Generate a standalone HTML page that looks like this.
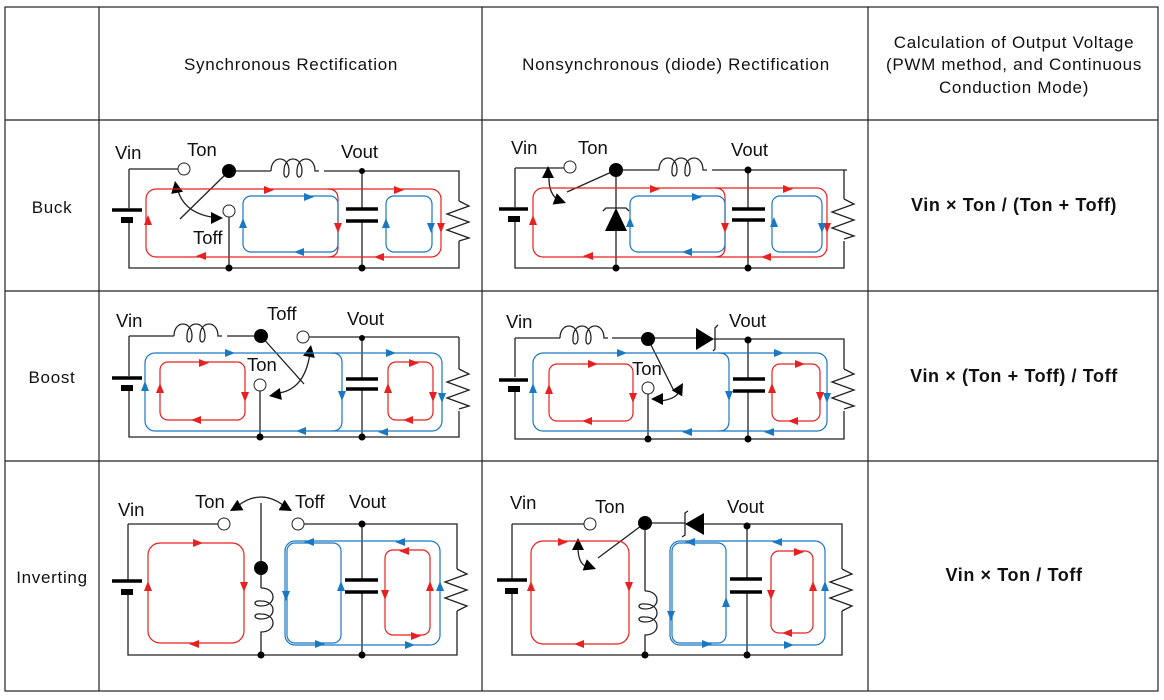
<!DOCTYPE html>
<html><head><meta charset="utf-8"><style>
html,body{margin:0;padding:0;background:#fff}
svg{display:block}
text{font-family:"Liberation Sans",Arial,sans-serif;fill:#111}
.w{stroke:#222;stroke-width:1.3;fill:none}
.r{stroke:#e82020;stroke-width:1.2;fill:none}
.b{stroke:#1a78c2;stroke-width:1.2;fill:none}
.pl{stroke:#000;stroke-width:3.5}
.ps{stroke:#000;stroke-width:6}
.t{font-size:18.5px}
</style></head><body>
<svg width="1164" height="700" viewBox="0 0 1164 700" xmlns="http://www.w3.org/2000/svg">
<defs>
<polygon id="ar" points="0,0 -10,-4 -10,4"/>
<polygon id="ak" points="0,0 -12,-6 -12,6" fill="#000"/>
</defs>
<g stroke="#222" stroke-width="1.2" fill="none">
<rect x="5" y="7" width="1153" height="684"/>
<line x1="99" y1="7" x2="99" y2="691"/>
<line x1="482" y1="7" x2="482" y2="691"/>
<line x1="868" y1="7" x2="868" y2="691"/>
<line x1="5" y1="120" x2="1158" y2="120"/>
<line x1="5" y1="291" x2="1158" y2="291"/>
<line x1="5" y1="461" x2="1158" y2="461"/>
</g>
<g font-size="17" text-anchor="middle" letter-spacing="0.7">
<text x="291" y="70">Synchronous Rectification</text>
<text x="676" y="70">Nonsynchronous (diode) Rectification</text>
<text x="1014" y="48">Calculation of Output Voltage</text>
<text x="1014" y="70">(PWM method, and Continuous</text>
<text x="1014" y="93">Conduction Mode)</text>
<text x="52" y="213">Buck</text>
<text x="52" y="383">Boost</text>
<text x="52" y="583">Inverting</text>
</g>
<g font-size="18" font-weight="bold" text-anchor="middle" letter-spacing="0.6">
<text x="1014" y="211">Vin ×  Ton / (Ton + Toff)</text>
<text x="1014" y="382">Vin ×  (Ton + Toff) / Toff</text>
<text x="1014" y="581">Vin ×  Ton / Toff</text>
</g>

<!-- BUCK SYNC -->
<g transform="translate(99,121)">
<text class="t" x="16" y="38">Vin</text><text class="t" x="88" y="35">Ton</text><text class="t" x="242" y="37">Vout</text><text class="t" x="94" y="123">Toff</text>
<path class="w" d="M30,48 H79 M137,50 H172 M225,50 H360 V80 M360,120 V147 H30 V99 M30,87 V48 M263,50 V88 M263,100 V147 M130,96 V147 M130,50 L81,98"/>
<path class="w" d="M172,50 c0,-16 18,-16 18,0 c0,8 -6,8 -5,0 c0,-16 18,-16 18,0 c0,8 -6,8 -5,0 c0,-16 18,-16 18,0 c0,0 0,0 4,0"/>
<path class="w" d="M360,80 l10,5 l-22,8 l22,8 l-22,8 l22,8 l-10,3"/>
<line class="pl" x1="13" y1="89" x2="43" y2="89"/><line class="ps" x1="22" y1="99" x2="34" y2="99"/>
<line class="pl" x1="247" y1="88" x2="279" y2="88"/><line class="pl" x1="247" y1="100" x2="279" y2="100"/>
<circle cx="85" cy="48" r="6" fill="#fff" stroke="#222"/><circle cx="130" cy="50" r="7"/><circle cx="130" cy="90" r="6" fill="#fff" stroke="#222"/>
<circle cx="263" cy="50" r="3"/><circle cx="263" cy="147" r="3.5"/><circle cx="130" cy="147" r="3.5"/>
<path class="w" stroke="#000" d="M78,66 Q84,94 120,97"/><use href="#ak" transform="translate(76,60) rotate(-100)"/><use href="#ak" transform="translate(124,97) rotate(0)"/>
<rect class="r" x="47" y="68" width="295" height="68" rx="10"/><path class="r" d="M229,68 q10,0 10,10 V126 q0,10 -10,10"/>
<rect class="b" x="144" y="75" width="95" height="56" rx="8"/><rect class="b" x="287" y="75" width="46" height="56" rx="8"/>
<g fill="#e82020"><use href="#ar" transform="translate(175,69)"/><use href="#ar" transform="translate(305,69)"/><use href="#ar" transform="translate(49,94) rotate(-90)"/><use href="#ar" transform="translate(239,112) rotate(90)"/><use href="#ar" transform="translate(342,112) rotate(90)"/><use href="#ar" transform="translate(97,135) rotate(180)"/><use href="#ar" transform="translate(275,136) rotate(180)"/></g>
<g fill="#1a78c2"><use href="#ar" transform="translate(215,76)"/><use href="#ar" transform="translate(144,97) rotate(-90)"/><use href="#ar" transform="translate(195,131) rotate(180)"/><use href="#ar" transform="translate(287,97) rotate(-90)"/><use href="#ar" transform="translate(332,112) rotate(90)"/></g>
</g>

<!-- BUCK NONSYNC -->
<g transform="translate(482,121)">
<text class="t" x="29" y="33">Vin</text><text class="t" x="96" y="33">Ton</text><text class="t" x="249" y="35">Vout</text>
<path class="w" d="M33,47 H82 M141,49 H177 M230,49 H365 M362,49 V78 M362,120 V147 H33 V98 M33,86 V47 M266,49 V87 M266,99 V147 M134,49 V150 M134,49 L85,71"/>
<path class="w" d="M177,49 c0,-16 18,-16 18,0 c0,8 -6,8 -5,0 c0,-16 18,-16 18,0 c0,8 -6,8 -5,0 c0,-16 18,-16 18,0 c0,0 0,0 4,0"/>
<path class="w" d="M362,78 l10,5 l-22,8 l22,8 l-22,8 l22,8 l-10,3"/>
<polygon points="134,87 123,110 145,110"/><path class="w" stroke="#000" stroke-width="2" d="M121,90 l3,-3 H144 l3,3"/>
<line class="pl" x1="17" y1="88" x2="46" y2="88"/><line class="ps" x1="26" y1="98" x2="38" y2="98"/>
<line class="pl" x1="250" y1="88" x2="283" y2="88"/><line class="pl" x1="250" y1="99" x2="283" y2="99"/>
<circle cx="88" cy="46" r="6" fill="#fff" stroke="#222"/><circle cx="134" cy="49" r="7"/>
<circle cx="266" cy="49" r="3.5"/><circle cx="266" cy="147" r="3.5"/><circle cx="134" cy="147" r="3.5"/>
<path class="w" stroke="#000" d="M67,54 Q66,74 78,80"/><use href="#ak" transform="translate(66,45) rotate(-90)"/><use href="#ak" transform="translate(84,82) rotate(20)"/>
<rect class="r" x="51" y="67" width="294" height="69" rx="10"/><path class="r" d="M233,67 q10,0 10,10 V126 q0,10 -10,10"/>
<rect class="b" x="148" y="75" width="95" height="56" rx="8"/><rect class="b" x="290" y="75" width="50" height="56" rx="8"/>
<g fill="#e82020"><use href="#ar" transform="translate(178,68)"/><use href="#ar" transform="translate(311,68)"/><use href="#ar" transform="translate(51,94) rotate(-90)"/><use href="#ar" transform="translate(243,112) rotate(90)"/><use href="#ar" transform="translate(345,112) rotate(90)"/><use href="#ar" transform="translate(101,135) rotate(180)"/><use href="#ar" transform="translate(279,136) rotate(180)"/></g>
<g fill="#1a78c2"><use href="#ar" transform="translate(220,76)"/><use href="#ar" transform="translate(148,96) rotate(-90)"/><use href="#ar" transform="translate(200,131) rotate(180)"/><use href="#ar" transform="translate(292,96) rotate(-90)"/><use href="#ar" transform="translate(340,112) rotate(90)"/></g>
</g>

<!-- BOOST SYNC -->
<g transform="translate(99,291)">
<text class="t" x="17" y="36">Vin</text><text class="t" x="168" y="29">Toff</text><text class="t" x="248" y="34">Vout</text><text class="t" x="148" y="80">Ton</text>
<path class="w" d="M30,45 H75 M128,45 H155 M210,46 H360 M360,46 V78 M360,120 V146 H30 V97 M30,85 V45 M263,47 V88 M263,98 V146 M161,100 V146 M162,45 L205,93"/>
<path class="w" d="M75,45 c0,-16 18,-16 18,0 c0,8 -6,8 -5,0 c0,-16 18,-16 18,0 c0,8 -6,8 -5,0 c0,-16 18,-16 18,0 c0,0 0,0 4,0"/>
<path class="w" d="M360,78 l10,5 l-22,8 l22,8 l-22,8 l22,8 l-10,3"/>
<line class="pl" x1="13" y1="87" x2="43" y2="87"/><line class="ps" x1="22" y1="97" x2="34" y2="97"/>
<line class="pl" x1="247" y1="88" x2="279" y2="88"/><line class="pl" x1="247" y1="98" x2="279" y2="98"/>
<circle cx="162" cy="45" r="7"/><circle cx="204" cy="46" r="6" fill="#fff" stroke="#222"/><circle cx="161" cy="94" r="6" fill="#fff" stroke="#222"/>
<circle cx="263" cy="47" r="3"/><circle cx="263" cy="146" r="3.5"/><circle cx="161" cy="146" r="3.5"/>
<path class="w" stroke="#000" d="M211,62 Q206,98 180,102"/><use href="#ak" transform="translate(212,54) rotate(-80)"/><use href="#ak" transform="translate(170,105) rotate(170)"/>
<rect class="b" x="46" y="62" width="297" height="78" rx="10"/><path class="b" d="M233,62 q10,0 10,10 V130 q0,10 -10,10"/>
<rect class="r" x="61" y="71" width="85" height="58" rx="8"/><rect class="r" x="289" y="71" width="45" height="58" rx="8"/>
<g fill="#1a78c2"><use href="#ar" transform="translate(136,62)"/><use href="#ar" transform="translate(297,62)"/><use href="#ar" transform="translate(46,90) rotate(-90)"/><use href="#ar" transform="translate(243,110) rotate(90)"/><use href="#ar" transform="translate(343,112) rotate(90)"/><use href="#ar" transform="translate(197,140) rotate(180)"/><use href="#ar" transform="translate(279,141) rotate(180)"/></g>
<g fill="#e82020"><use href="#ar" transform="translate(110,72)"/><use href="#ar" transform="translate(61,92) rotate(-90)"/><use href="#ar" transform="translate(146,111) rotate(90)"/><use href="#ar" transform="translate(92,129) rotate(180)"/><use href="#ar" transform="translate(320,72)"/><use href="#ar" transform="translate(289,92) rotate(-90)"/><use href="#ar" transform="translate(334,111) rotate(90)"/><use href="#ar" transform="translate(304,129) rotate(180)"/></g>
</g>

<!-- BOOST NONSYNC -->
<g transform="translate(482,291)">
<text class="t" x="24" y="37">Vin</text><text class="t" x="247" y="36">Vout</text><text class="t" x="150" y="84">Ton</text>
<path class="w" d="M33,47 H78 M130,47 H215 M232,48 H362 V78 M362,120 V148 H33 V98 M33,86 V47 M266,49 V88 M266,100 V148 M166,103 V148 M166,48 L192,100"/>
<path class="w" d="M78,47 c0,-16 18,-16 18,0 c0,8 -6,8 -5,0 c0,-16 18,-16 18,0 c0,8 -6,8 -5,0 c0,-16 18,-16 18,0 c0,0 0,0 4,0"/>
<path class="w" d="M362,78 l10,5 l-22,8 l22,8 l-22,8 l22,8 l-10,3"/>
<polygon points="232,48 214,37 214,59"/><path class="w" stroke="#000" stroke-width="2" d="M236,34 l-3,3 V58 l-2,2"/>
<line class="pl" x1="17" y1="89" x2="46" y2="89"/><line class="ps" x1="26" y1="98" x2="38" y2="98"/>
<line class="pl" x1="251" y1="88" x2="283" y2="88"/><line class="pl" x1="251" y1="100" x2="283" y2="100"/>
<circle cx="166" cy="48" r="7"/><circle cx="166" cy="97" r="6" fill="#fff" stroke="#222"/>
<circle cx="266" cy="49" r="3.5"/><circle cx="266" cy="148" r="3.5"/><circle cx="166" cy="148" r="3.5"/>
<path class="w" stroke="#000" d="M178,110 Q196,108 198,98"/><use href="#ak" transform="translate(169,108) rotate(180)"/><use href="#ak" transform="translate(201,92) rotate(-60)"/>
<rect class="b" x="51" y="62" width="294" height="78" rx="10"/><path class="b" d="M237,62 q10,0 10,10 V130 q0,10 -10,10"/>
<rect class="r" x="67" y="73" width="84" height="57" rx="8"/><rect class="r" x="290" y="73" width="48" height="57" rx="8"/>
<g fill="#1a78c2"><use href="#ar" transform="translate(145,62)"/><use href="#ar" transform="translate(302,62)"/><use href="#ar" transform="translate(51,92) rotate(-90)"/><use href="#ar" transform="translate(247,110) rotate(90)"/><use href="#ar" transform="translate(345,112) rotate(90)"/><use href="#ar" transform="translate(200,141) rotate(180)"/><use href="#ar" transform="translate(282,141) rotate(180)"/></g>
<g fill="#e82020"><use href="#ar" transform="translate(116,73)"/><use href="#ar" transform="translate(67,93) rotate(-90)"/><use href="#ar" transform="translate(151,112) rotate(90)"/><use href="#ar" transform="translate(100,130) rotate(180)"/><use href="#ar" transform="translate(323,73)"/><use href="#ar" transform="translate(290,92) rotate(-90)"/><use href="#ar" transform="translate(338,111) rotate(90)"/><use href="#ar" transform="translate(306,130) rotate(180)"/></g>
</g>

<!-- INVERTING SYNC -->
<g transform="translate(99,461)">
<text class="t" x="19" y="55">Vin</text><text class="t" x="96" y="47">Ton</text><text class="t" x="196" y="47">Toff</text><text class="t" x="250" y="47">Vout</text>
<path class="w" d="M29,63 H119 M205,63 H358 V108 M358,150 V194 H29 V131 M29,119 V63 M263,63 V119 M263,131 V194 M162,42 V107 M162,107 V127 M162,180 V194"/>
<path class="w" d="M162,127 c16,0 16,18 0,18 c-8,0 -8,-6 0,-5 c16,0 16,18 0,18 c-8,0 -8,-6 0,-5 c16,0 16,18 0,18 V180"/>
<path class="w" d="M358,108 l10,5 l-22,8 l22,8 l-22,8 l22,8 l-10,5"/>
<line class="pl" x1="13" y1="120" x2="43" y2="120"/><line class="ps" x1="22" y1="131" x2="34" y2="131"/>
<line class="pl" x1="246" y1="119" x2="279" y2="119"/><line class="pl" x1="246" y1="131" x2="279" y2="131"/>
<circle cx="125" cy="63" r="6" fill="#fff" stroke="#222"/><circle cx="199" cy="63" r="6" fill="#fff" stroke="#222"/><circle cx="162" cy="107" r="7"/>
<circle cx="263" cy="63" r="3.5"/><circle cx="263" cy="194" r="3.5"/><circle cx="162" cy="194" r="3.5"/>
<path class="w" stroke="#000" d="M140,44 Q162,28 184,44"/><use href="#ak" transform="translate(131,50) rotate(150)"/><use href="#ak" transform="translate(193,50) rotate(30)"/>
<rect class="r" x="49" y="82" width="96" height="100" rx="12"/>
<rect class="b" x="186" y="80" width="155" height="104" rx="10"/><rect class="b" x="188" y="82" width="54" height="100" rx="8"/>
<rect class="r" x="286" y="89" width="45" height="85" rx="8"/>
<g fill="#e82020"><use href="#ar" transform="translate(104,82)"/><use href="#ar" transform="translate(49,120) rotate(-90)"/><use href="#ar" transform="translate(145,131) rotate(90)"/><use href="#ar" transform="translate(90,183) rotate(180)"/><use href="#ar" transform="translate(300,90) rotate(180)"/><use href="#ar" transform="translate(286,139) rotate(90)"/><use href="#ar" transform="translate(331,120) rotate(-90)"/><use href="#ar" transform="translate(322,175)"/></g>
<g fill="#1a78c2"><use href="#ar" transform="translate(205,81) rotate(180)"/><use href="#ar" transform="translate(296,81) rotate(180)"/><use href="#ar" transform="translate(187,140) rotate(90)"/><use href="#ar" transform="translate(242,120) rotate(-90)"/><use href="#ar" transform="translate(341,120) rotate(-90)"/><use href="#ar" transform="translate(226,183)"/><use href="#ar" transform="translate(316,184)"/></g>
</g>

<!-- INVERTING NONSYNC -->
<g transform="translate(482,461)">
<text class="t" x="28" y="48">Vin</text><text class="t" x="113" y="52">Ton</text><text class="t" x="245" y="52">Vout</text>
<path class="w" d="M30,63 H102 M170,62 H203 M222,63 H360 V108 M360,150 V194 H30 V130 M30,118 V63 M265,65 V118 M265,131 V194 M163,62 V130 M163,180 V194 M163,62 L116,97"/>
<path class="w" d="M163,130 c16,0 16,18 0,18 c-8,0 -8,-6 0,-5 c16,0 16,18 0,18 c-8,0 -8,-6 0,-5 c16,0 16,18 0,18 V180"/>
<path class="w" d="M360,108 l10,5 l-22,8 l22,8 l-22,8 l22,8 l-10,5"/>
<polygon points="203,63 222,52 222,74"/><path class="w" stroke="#000" stroke-width="2" d="M206,50 l-3,2 V74 l-3,2"/>
<line class="pl" x1="15" y1="119" x2="45" y2="119"/><line class="ps" x1="23" y1="130" x2="36" y2="130"/>
<line class="pl" x1="248" y1="118" x2="280" y2="118"/><line class="pl" x1="248" y1="131" x2="280" y2="131"/>
<circle cx="108" cy="63" r="6" fill="#fff" stroke="#222"/><circle cx="163" cy="62" r="7"/>
<circle cx="265" cy="65" r="3.5"/><circle cx="265" cy="194" r="3.5"/><circle cx="163" cy="194" r="3.5"/>
<path class="w" stroke="#000" d="M96,86 Q96,104 106,106"/><use href="#ak" transform="translate(96,77) rotate(-90)"/><use href="#ak" transform="translate(114,108) rotate(20)"/>
<rect class="r" x="49" y="80" width="98" height="103" rx="12"/>
<rect class="b" x="188" y="80" width="155" height="104" rx="10"/><rect class="b" x="190" y="82" width="54" height="100" rx="8"/>
<rect class="r" x="289" y="90" width="42" height="82" rx="8"/>
<g fill="#e82020"><use href="#ar" transform="translate(86,81)"/><use href="#ar" transform="translate(49,120) rotate(-90)"/><use href="#ar" transform="translate(147,131) rotate(90)"/><use href="#ar" transform="translate(92,183) rotate(180)"/><use href="#ar" transform="translate(322,91)"/><use href="#ar" transform="translate(289,139) rotate(90)"/><use href="#ar" transform="translate(331,120) rotate(-90)"/><use href="#ar" transform="translate(300,172) rotate(180)"/></g>
<g fill="#1a78c2"><use href="#ar" transform="translate(203,81) rotate(180)"/><use href="#ar" transform="translate(290,81) rotate(180)"/><use href="#ar" transform="translate(189,160) rotate(90)"/><use href="#ar" transform="translate(244,136) rotate(-90)"/><use href="#ar" transform="translate(343,120) rotate(-90)"/><use href="#ar" transform="translate(230,183)"/><use href="#ar" transform="translate(312,184)"/></g>
</g>
</svg>
</body></html>
